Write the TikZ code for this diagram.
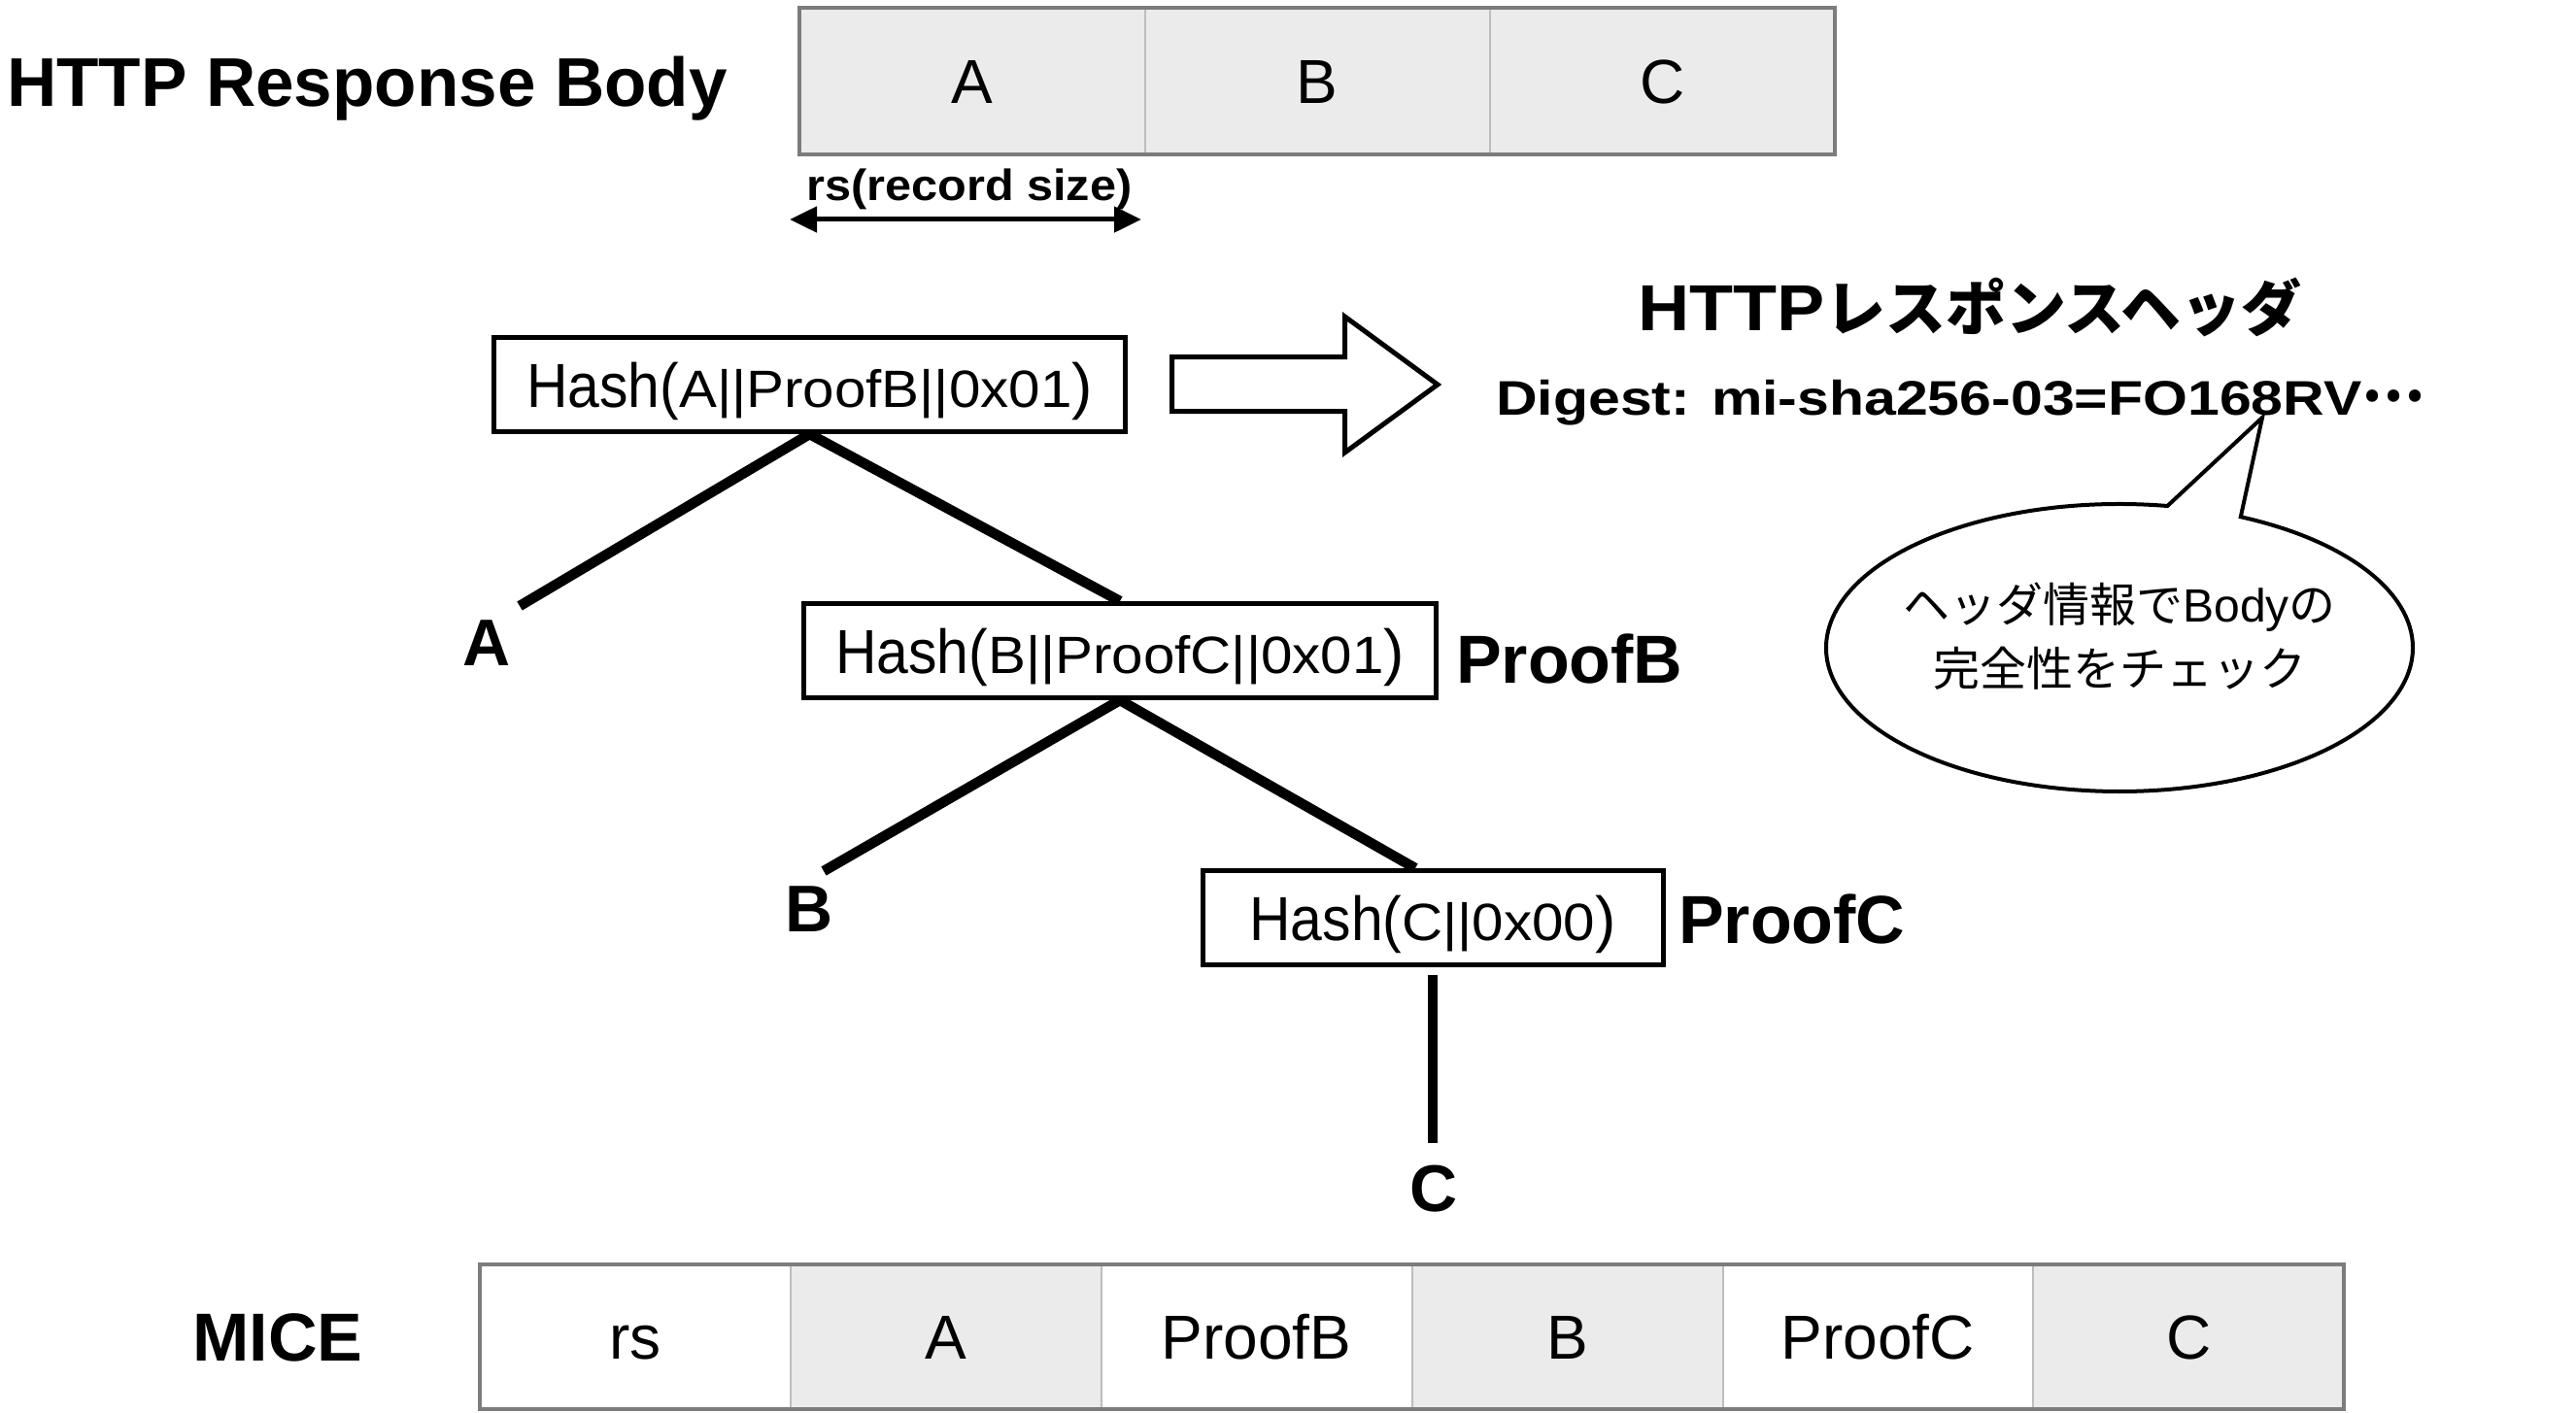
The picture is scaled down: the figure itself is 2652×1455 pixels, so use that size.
\documentclass[tikz,border=0pt]{standalone}
\usepackage{fontspec}
\usepackage{graphicx}
\setmainfont{Liberation Sans}
\newfontfamily\jpfont{Noto Sans CJK JP}
\usetikzlibrary{arrows.meta,calc,shapes.callouts}
\definecolor{cellgray}{HTML}{EBEBEB}
\definecolor{framegray}{HTML}{7C7C7C}
\definecolor{divgray}{HTML}{BDBDBD}
\newcommand\fsz[1]{\fontsize{#1pt}{#1pt}\selectfont}
\newcommand\wide[2]{\scalebox{#1}[1]{#2}}
\newcommand\hashlabel[1]{{\fsz{64}\wide{0.92}{Hash(}}{\fsz{54}\wide{1.08}{#1}}{\fsz{64})}}

\begin{document}
\begin{tikzpicture}[x=1pt,y=-1pt,
  cell/.style={inner sep=0pt, text height=46pt, text depth=0pt, font=\fsz{64}},
  frame/.style={draw=framegray, line width=4pt},
  divider/.style={draw=divgray, line width=2pt},
  hashbox/.style={draw, line width=5pt, fill=white, inner sep=0pt, minimum height=97pt,
                  text height=46pt, text depth=0pt},
  tree/.style={line width=10.5pt},
  boldlabel/.style={font=\bfseries\fsz{68}, inner sep=0pt},
  proof/.style={font=\bfseries\fsz{70}, inner sep=0pt, anchor=base west}]

\useasboundingbox (0,0) rectangle (2652,1455);

% ---- HTTP response body split into records ----
\node[anchor=base west, inner sep=0pt, font=\bfseries\fsz{71}] (bodylbl) at (7,110) {HTTP Response Body};
\node[cell, fill=cellgray, minimum width=355.3pt, minimum height=151pt] (b1) at (1000.7,83.5) {A};
\node[cell, fill=cellgray, minimum width=355.3pt, minimum height=151pt] (b2) at (1356,83.5) {B};
\node[cell, fill=cellgray, minimum width=355.3pt, minimum height=151pt] (b3) at (1711.3,83.5) {C};
\draw[divider] (b1.north east) -- (b1.south east);
\draw[divider] (b2.north east) -- (b2.south east);
\draw[frame] (b1.north west) rectangle (b3.south east);

% record size marker
\node[anchor=base, inner sep=0pt, font=\bfseries\fsz{45}] (rslbl) at (998,207) {\wide{1.08}{rs(record size)}};
\coordinate (rsl) at (813,226);
\coordinate (rsr) at (1175,226);
\draw[line width=5pt, {Triangle[length=28pt,width=26pt]}-{Triangle[length=28pt,width=26pt]}] (rsl) -- (rsr);

% ---- hash tree ----
\node[hashbox, minimum width=650pt] (h1) at (833.5,396) {\hashlabel{A||ProofB||0x01}};
\node[hashbox, minimum width=651pt] (h2) at (1153,670) {\hashlabel{B||ProofC||0x01}};
\node[hashbox, minimum width=474pt] (h3) at (1475,945) {\hashlabel{C||0x00}};

\coordinate (aend) at (535,624);
\coordinate (bend) at (848,897);
\coordinate (cend) at (1475,1177);

\draw[tree] (h1.south) -- (aend);
\draw[tree] (h1.south) -- (h2.north);
\draw[tree] (h2.south) -- (bend);
\draw[tree] (h2.south) -- ($(h3.north)+(-18,0)$);
\draw[tree] ($(h3.south)+(0,8)$) -- (cend);

\node[boldlabel, anchor=base] (la) at (501,685) {A};
\node[boldlabel, anchor=base] (lb) at (833,959) {B};
\node[boldlabel, anchor=base] (lc) at (1476,1247) {C};
\node[proof] (pb) at (1499,703) {ProofB};
\node[proof] (pc) at (1728,971) {ProofC};

% ---- root hash goes into the response header ----
\draw[line width=5pt, line join=miter, fill=white]
  (1206.5,367.5) -- (1384.5,367.5) -- (1384.5,326) -- (1480,396) -- (1384.5,466)
  -- (1384.5,423.5) -- (1206.5,423.5) -- cycle;

\node[anchor=base, inner sep=0pt] (hdr) at (2028,340)
  {\bfseries{\fsz{67}\wide{1.1}{HTTP}}{\jpfont\fsz{62}レスポンスヘッダ}};
\node[anchor=base west, inner sep=0pt] (digest) at (1540,427)
  {\bfseries\fsz{50}\wide{1.18}{Digest: mi-sha256-03=FO168RV}{\jpfont\fsz{58}\raisebox{14pt}{…}}};

% speech bubble
\coordinate (tip) at (2329,430);
\node[ellipse callout, draw, line width=4pt, fill=white, minimum width=604pt, minimum height=296pt,
      inner sep=0pt, callout absolute pointer={(tip)}, callout pointer arc=15] (bubble) at (2182,667) {};
\node[align=center, inner sep=0pt, font=\fontsize{48pt}{66pt}\selectfont] (note) at (2182,655)
  {{\jpfont ヘッダ情報で}Body{\jpfont の}\\{\jpfont 完全性をチェック}};

% ---- MICE encoding ----
\node[anchor=base, inner sep=0pt, font=\bfseries\fsz{70}] (mice) at (286,1401) {MICE};
\node[cell, minimum width=319.8pt, minimum height=149pt] (m1) at (653.9,1376.5) {rs};
\node[cell, fill=cellgray, minimum width=319.8pt, minimum height=149pt] (m2) at (973.7,1376.5) {A};
\node[cell, minimum width=319.8pt, minimum height=149pt] (m3) at (1293.6,1376.5) {ProofB};
\node[cell, fill=cellgray, minimum width=319.8pt, minimum height=149pt] (m4) at (1613.4,1376.5) {B};
\node[cell, minimum width=319.8pt, minimum height=149pt] (m5) at (1933.2,1376.5) {ProofC};
\node[cell, fill=cellgray, minimum width=319.8pt, minimum height=149pt] (m6) at (2253.1,1376.5) {C};
\foreach \c in {m1,m2,m3,m4,m5}{\draw[divider] (\c.north east) -- (\c.south east);}
\draw[frame] (m1.north west) rectangle (m6.south east);
\end{tikzpicture}
\end{document}
